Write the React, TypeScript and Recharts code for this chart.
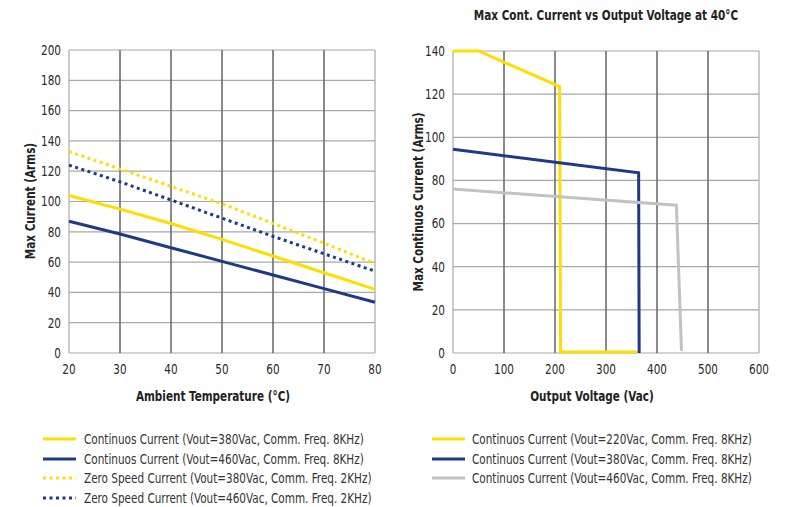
import React from 'react';
import { LineChart, Line, XAxis, YAxis, CartesianGrid } from 'recharts';

const FONT = "'DejaVu Sans Condensed', 'DejaVu Sans', sans-serif";
const SQUEEZE = 0.86;
const YELLOW = '#FFDD00';
const NAVY = '#1E3A86';
const GRAY = '#C2C2C2';
const GRID_LIGHT = '#A8A8A8';
const GRID_DARK = '#4A4A4A';

// Left chart: Max current vs ambient temperature
const tempTicks = [20, 30, 40, 50, 60, 70, 80];
const currentTicks = [0, 20, 40, 60, 80, 100, 120, 140, 160, 180, 200];
const cont380 = [104, 95, 85.5, 75, 64, 53, 42];
const cont460 = [87, 78.5, 69.5, 60.5, 51.5, 42.5, 33.5];
const zero380 = [133, 121.5, 110, 98.5, 85.5, 72.5, 59];
const zero460 = [124, 113, 101, 89, 77, 65.5, 54];

const leftLabels = [
  'Continuos Current (Vout=380Vac, Comm. Freq. 8KHz)',
  'Continuos Current (Vout=460Vac, Comm. Freq. 8KHz)',
  'Zero Speed Current (Vout=380Vac, Comm. Freq. 2KHz)',
  'Zero Speed Current (Vout=460Vac, Comm. Freq. 2KHz)',
];

// Right chart: Max continuous current vs output voltage at 40°C
const voltTicks = [0, 100, 200, 300, 400, 500, 600];
const contCurrentTicks = [0, 20, 40, 60, 80, 100, 120, 140];
const v220Volts = [0, 50, 209, 211, 362];
const v220Amps = [140, 140, 123.5, 0.5, 0.5];
const v380Volts = [0, 364, 365];
const v380Amps = [94.5, 83.5, 0];
const v460Volts = [0, 438, 448];
const v460Amps = [76, 68.5, 1];

const rightLabels = [
  'Continuos Current (Vout=220Vac, Comm. Freq. 8KHz)',
  'Continuos Current (Vout=380Vac, Comm. Freq. 8KHz)',
  'Continuos Current (Vout=460Vac, Comm. Freq. 8KHz)',
];

const leftTitleX = 'Ambient Temperature (°C)';
const leftTitleY = 'Max Current (Arms)';
const rightTitleX = 'Output Voltage (Vac)';
const rightTitleY = 'Max Continuos Current (Arms)';
const rightTitle = 'Max Cont. Current vs Output Voltage at 40°C';

const leftData = tempTicks.map((t, i) => ({
  t,
  c380: cont380[i],
  c460: cont460[i],
  z380: zero380[i],
  z460: zero460[i],
}));

const toPts = (xs: number[], ys: number[]) => xs.map((v, i) => ({ v, a: ys[i] }));
const s220 = toPts(v220Volts, v220Amps);
const s380 = toPts(v380Volts, v380Amps);
const s460 = toPts(v460Volts, v460Amps);

const leftSeries = [
  { key: 'c380', color: YELLOW, dash: undefined as string | undefined },
  { key: 'c460', color: NAVY, dash: undefined as string | undefined },
  { key: 'z380', color: YELLOW, dash: '3 3.5' },
  { key: 'z460', color: NAVY, dash: '3 3.5' },
];

const rightSeries = [
  { data: s220, color: YELLOW },
  { data: s380, color: NAVY },
  { data: s460, color: GRAY },
];

function innerVerticals(ticks: number[]) {
  const inner = ticks.slice(1, -1);
  return (props: any) => {
    const axis = props && props.xAxis;
    const sc = axis && axis.scale;
    if (!sc) return [];
    return inner.map((t) => (typeof sc === 'function' ? sc(t) : sc.map ? sc.map(t) : 0));
  };
}

function makeTick(dy: string) {
  return (props: any) => {
    const { x, y, payload, textAnchor } = props;
    return (
      <g transform={`translate(${x},${y})`}>
        <text
          transform={`scale(${SQUEEZE},1)`}
          textAnchor={textAnchor}
          dy={dy}
          style={{ fontFamily: FONT, fontSize: 13.5, fill: '#2a2a2a' }}
        >
          {payload.value}
        </text>
      </g>
    );
  };
}

const xTick = makeTick('0.71em');
const yTick = makeTick('0.355em');

function Caption({ x, y, text, rotate = 0, bold = true }: any) {
  return (
    <div
      style={{
        position: 'absolute',
        left: x,
        top: y,
        width: 0,
        height: 0,
        transformOrigin: '0 0',
        transform: `rotate(${rotate}deg) scaleX(${SQUEEZE})`,
      }}
    >
      <span
        style={{
          position: 'absolute',
          left: 0,
          top: 0,
          transform: 'translate(-50%, -50%)',
          whiteSpace: 'nowrap',
          fontFamily: FONT,
          fontSize: 13.5,
          fontWeight: bold ? 700 : 400,
          color: '#222',
          lineHeight: '16px',
        }}
      >
        {text}
      </span>
    </div>
  );
}

function LegendRow({ color, dash, label, lineX, textX, y }: any) {
  return (
    <div style={{ position: 'absolute', left: 0, top: y - 10, height: 20, width: 400 }}>
      <svg width={textX} height={20} style={{ position: 'absolute', left: 0, top: 0 }}>
        <line x1={lineX} x2={lineX + 33} y1={10} y2={10} stroke={color} strokeWidth={3} strokeDasharray={dash} />
      </svg>
      <span
        style={{
          position: 'absolute',
          left: textX,
          top: 1,
          fontFamily: FONT,
          fontSize: 13.5,
          color: '#333',
          whiteSpace: 'nowrap',
          lineHeight: '18px',
          transformOrigin: '0 50%',
          transform: `scaleX(${SQUEEZE})`,
        }}
      >
        {label}
      </span>
    </div>
  );
}

export default function App() {
  return (
    <div style={{ position: 'absolute', left: 0, top: 0, width: 787, height: 507, background: '#fff', overflow: 'hidden' }}>
      <div style={{ position: 'absolute', left: 0, top: 0 }}>
        <LineChart width={400} height={420} data={leftData} margin={{ top: 50, right: 25, bottom: 0, left: 0 }}>
          <CartesianGrid stroke={GRID_LIGHT} strokeWidth={1.2} />
          <CartesianGrid horizontal={false} stroke={GRID_DARK} strokeWidth={1} verticalCoordinatesGenerator={innerVerticals(tempTicks)} />
          <XAxis
            dataKey="t"
            type="number"
            domain={[20, 80]}
            ticks={tempTicks}
            axisLine={false}
            tickLine={false}
            tick={xTick}
            tickMargin={5}
            height={67}
          />
          <YAxis
            type="number"
            domain={[0, 200]}
            ticks={currentTicks}
            axisLine={false}
            tickLine={false}
            tick={yTick}
            width={69}
          />
          {leftSeries.map((s) => (
            <Line
              key={s.key}
              dataKey={s.key}
              stroke={s.color}
              strokeWidth={3}
              strokeDasharray={s.dash}
              dot={false}
              activeDot={false}
              isAnimationActive={false}
            />
          ))}
        </LineChart>
      </div>

      <div style={{ position: 'absolute', left: 400, top: 0 }}>
        <LineChart width={387} height={420} margin={{ top: 51, right: 28, bottom: 0, left: 0 }}>
          <CartesianGrid stroke={GRID_LIGHT} strokeWidth={1.2} />
          <CartesianGrid horizontal={false} stroke={GRID_DARK} strokeWidth={1} verticalCoordinatesGenerator={innerVerticals(voltTicks)} />
          <XAxis
            dataKey="v"
            type="number"
            domain={[0, 600]}
            ticks={voltTicks}
            axisLine={false}
            tickLine={false}
            tick={xTick}
            tickMargin={5}
            height={67}
            allowDuplicatedCategory={false}
          />
          <YAxis
            type="number"
            domain={[0, 140]}
            ticks={contCurrentTicks}
            axisLine={false}
            tickLine={false}
            tick={yTick}
            width={53}
          />
          {rightSeries.map((s, i) => (
            <Line
              key={i}
              data={s.data}
              dataKey="a"
              stroke={s.color}
              strokeWidth={3}
              dot={false}
              activeDot={false}
              isAnimationActive={false}
            />
          ))}
        </LineChart>
      </div>

      <Caption x={606} y={15} text={rightTitle} />
      <Caption x={213} y={396} text={leftTitleX} />
      <Caption x={592} y={396} text={rightTitleX} />
      <Caption x={30} y={201} text={leftTitleY} rotate={-90} />
      <Caption x={418} y={202} text={rightTitleY} rotate={-90} />

      {leftLabels.map((lab, i) => (
        <LegendRow
          key={lab}
          color={leftSeries[i].color}
          dash={leftSeries[i].dash}
          label={lab}
          lineX={43}
          textX={84}
          y={439 + i * 19.5}
        />
      ))}
      <div style={{ position: 'absolute', left: 390, top: 0 }}>
        {rightLabels.map((lab, i) => (
          <LegendRow key={lab} color={rightSeries[i].color} label={lab} lineX={42} textX={82} y={439 + i * 19.5} />
        ))}
      </div>
    </div>
  );
}
